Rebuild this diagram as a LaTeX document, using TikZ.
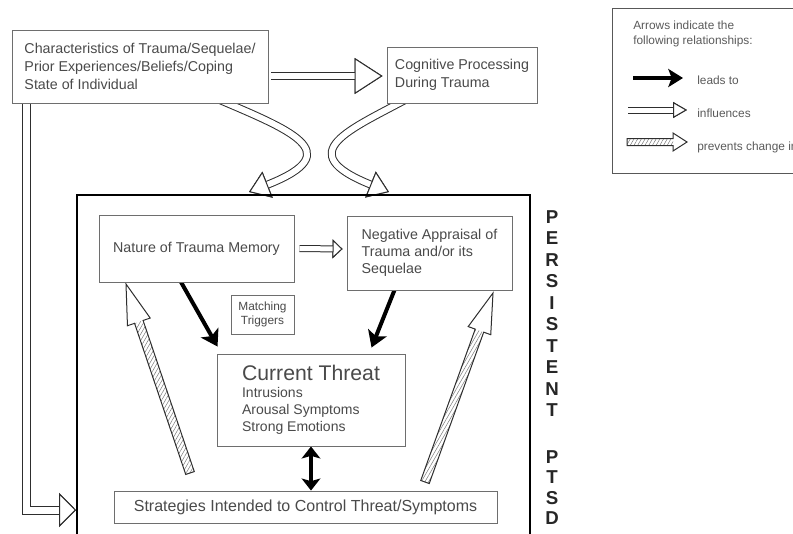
\documentclass[tikz,border=0pt]{standalone}
\usepackage{fontspec}
\setmainfont{Liberation Sans}
\usetikzlibrary{arrows.meta,calc,patterns.meta}
\pgfdeclarelayer{background}
\pgfsetlayers{background,main}
\definecolor{txt}{HTML}{4A4A4A}
\definecolor{bx}{HTML}{6E6E6E}
\definecolor{lc}{HTML}{2E2E2E}
\definecolor{lgtxt}{HTML}{5A5A5A}
% hollow (white) arrow: #1 outer width, #2 inner width, #3 head length, #4 head width, #5 path
\newcommand{\hollowarrow}[5]{%
  \draw[line width=#1, draw=lc, -{Triangle[length=#3, width=#4, fill=white, color=lc, line width=0.75pt]}] #5;
  \draw[line width=#2, draw=white, -{Triangle[length=#3, width=#4, fill=white, color=lc, line width=0.75pt]}] #5;
}
% hatched arrow: #1 tail, #2 tip, #3 half shaft, #4 head length, #5 half head width
\newcommand{\hatcharrow}[5]{%
  \coordinate (hb) at ($(#2)!#4!(#1)$);
  \fill[white] ($(#1)!#3!90:(#2)$) -- ($(hb)!#3!90:(#2)$) -- ($(hb)!#5!90:(#2)$) -- (#2) -- ($(hb)!#5!-90:(#2)$) -- ($(hb)!#3!-90:(#2)$) -- ($(#1)!#3!-90:(#2)$) -- cycle;
  \fill[hatchfill] ($(#1)!#3!90:(#2)$) -- ($(hb)!#3!90:(#2)$) -- ($(hb)!#3!-90:(#2)$) -- ($(#1)!#3!-90:(#2)$) -- cycle;
  \draw[hatchline] ($(#1)!#3!90:(#2)$) -- ($(hb)!#3!90:(#2)$) -- ($(hb)!#5!90:(#2)$) -- (#2) -- ($(hb)!#5!-90:(#2)$) -- ($(hb)!#3!-90:(#2)$) -- ($(#1)!#3!-90:(#2)$) -- cycle;
}
\begin{document}
\begin{tikzpicture}[x=0.75pt,y=-0.75pt,
  box/.style={draw=bx, fill=white, line width=0.7pt, inner sep=0pt, align=left, text=txt, font=\fontsize{10.7pt}{13.5pt}\selectfont},
  lead/.style={line width=3pt, draw=black, -{Stealth[length=12pt, width=15pt, inset=3pt]}},
  leadboth/.style={line width=3pt, draw=black, {Stealth[length=9pt, width=14pt, inset=2pt]}-{Stealth[length=9pt, width=14pt, inset=2pt]}},
  legtxt/.style={text=lgtxt, font=\fontsize{8.9pt}{11.25pt}\selectfont, inner sep=0pt, anchor=west, align=left},
  ptsdletter/.style={font=\fontsize{14pt}{16pt}\selectfont\bfseries, text=black!85, inner sep=0pt},
  hatchfill/.style={pattern={Lines[angle=60,distance=2.4pt,line width=0.35pt]}, pattern color=black!55},
  hatchline/.style={draw=lc, line width=0.75pt, line join=miter}]

\useasboundingbox (0,0) rectangle (793,533);

% ---- boxes ----
\node[draw=black, line width=1.5pt, minimum width=339.75pt, minimum height=262.5pt, inner sep=0pt] (ptsd) at (303.5,370) {};
\node[box, minimum width=192pt, minimum height=54.75pt] (char) at (140,66.5)
  {Characteristics of Trauma/Sequelae/\\Prior Experiences/Beliefs/Coping\\State of Individual};
\node[box, minimum width=112.5pt, minimum height=42pt] (cog) at (462,75)
  {Cognitive Processing\\During Trauma};
\node[box, align=center, minimum width=146.25pt, minimum height=50.25pt] (nat) at (196.5,248.5)
  {Nature of Trauma Memory};
\node[box, minimum width=123.75pt, minimum height=55.5pt, font=\fontsize{10.7pt}{12.75pt}\selectfont] (neg) at (429.5,253)
  {Negative Appraisal of\\Trauma and/or its\\Sequelae};
\node[box, align=center, minimum width=47.25pt, minimum height=29.25pt, font=\fontsize{8.9pt}{10.5pt}\selectfont] (match) at (262.5,314.5)
  {Matching\\Triggers};
\node[box, minimum width=141pt, minimum height=69pt, font=\fontsize{10.5pt}{12.75pt}\selectfont] (cur) at (311,400)
  {{\fontsize{15.9pt}{18pt}\selectfont Current Threat}\\Intrusions\\Arousal Symptoms\\Strong Emotions};
\node[box, align=center, minimum width=287.25pt, minimum height=24pt, font=\fontsize{12pt}{14pt}\selectfont] (strat) at (305.5,507)
  {Strategies Intended to Control Threat/Symptoms};

% ---- PERSISTENT PTSD ----
\foreach \lt/\yy [count=\i] in {P/217,E/238.5,R/260,S/281.5,I/303,S/324.5,T/346,E/367.5,N/389,T/410.5,P/457,T/477.5,S/498,D/518.5}
  \node[ptsdletter] (let\i) at (552,\yy) {\lt};

% ---- legend ----
\node[draw=bx!80!black, line width=0.7pt, minimum width=148.5pt, minimum height=123.75pt, inner sep=0pt] (leg) at (711,90.5) {};
\node[legtxt] (legh) at (633,33.5) {Arrows indicate the\\following relationships:};
\node[legtxt] (l1) at (697,80) {leads to};
\node[legtxt] (l2) at (697,113) {influences};
\node[legtxt] (l3) at (697,147) {prevents change in};
\coordinate (a1) at (633,78); \coordinate (b1) at (683,78);
\coordinate (a2) at (628,110); \coordinate (b2) at (687,110);
\coordinate (a3) at (627,142); \coordinate (b3) at (687,142);
\draw[line width=3.5pt, -{Stealth[length=11pt,width=13.5pt,inset=2.5pt]}] (a1) -- (b1);
\hollowarrow{5.25pt}{3.75pt}{10.5pt}{12pt}{(a2) -- (b2)}
\hatcharrow{a3}{b3}{2.625pt}{10.5pt}{6.75pt}

% ---- connectors ----
\begin{pgfonlayer}{background}
\hollowarrow{6pt}{4.5pt}{21pt}{27pt}{($(char.east)+(3,9.5)$) -- ($(cog.west)+(-4,1)$)}
\hollowarrow{6pt}{4.5pt}{15pt}{21pt}{($(char.south west)+(200,-7)$) .. controls (290,130) and (350,152) .. ($(ptsd.north west)+(173,-2)$)}
\hollowarrow{6pt}{4.5pt}{15pt}{21pt}{($(cog.south west)+(25,-7)$) .. controls (350,130) and (290,152) .. ($(ptsd.north west)+(313,-2)$)}
\hollowarrow{6.75pt}{5.25pt}{12.75pt}{25.5pt}{($(char.south west)+(15,-3)$) |- ($(ptsd.south west)+(0,-36)$)}
\hollowarrow{5.25pt}{3.75pt}{7.5pt}{14.25pt}{($(nat.east)+(5,0)$) -- ($(neg.west)+(-4,-4)$)}
\draw[lead] ($(nat.south west)+(81,-3)$) -- ($(cur.north west)+(1,-7)$);
\draw[lead] ($(neg.south west)+(49,-3)$) -- ($(cur.north west)+(155,-6)$);
\draw[leadboth] (cur.south) -- (cur.south |- strat.north);
\coordinate (hlt) at (190,473); \coordinate (hlh) at (126,284);
\coordinate (hrt) at (425,482); \coordinate (hrh) at (493,293);
\hatcharrow{hlt}{hlh}{3.375pt}{30pt}{9pt}
\hatcharrow{hrt}{hrh}{3.375pt}{30pt}{9pt}
\end{pgfonlayer}
\end{tikzpicture}
\end{document}
